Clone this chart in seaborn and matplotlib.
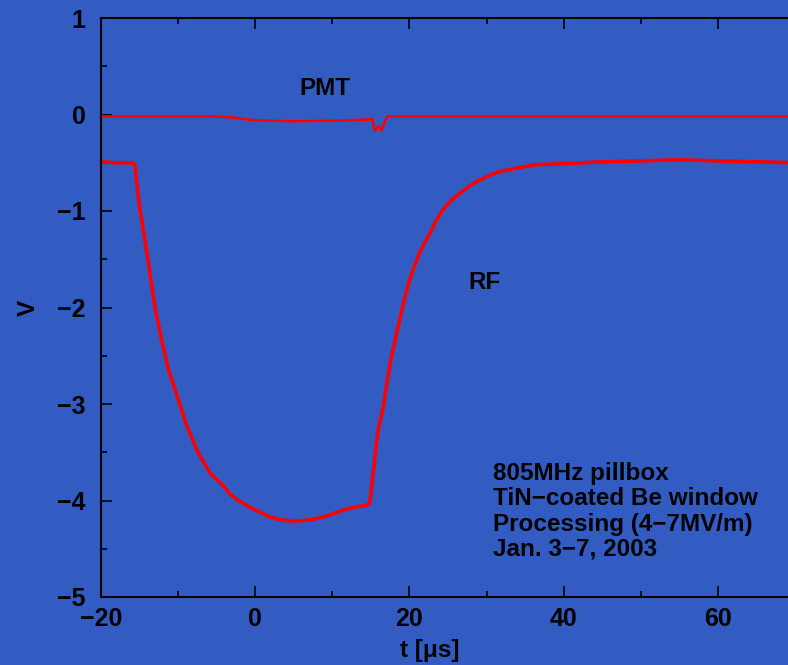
import matplotlib
matplotlib.use("Agg")
import matplotlib.pyplot as plt
from matplotlib.ticker import MultipleLocator
import seaborn as sns
import pandas as pd

# RF signal (time in microseconds, voltage in V)
rf_t = [-20.0, -18.0, -16.5, -15.8, -15.6, -15.3, -14.95, -14.3, -13.65, -13.0, -12.1,
        -11.3, -10.2, -8.9, -7.6, -6.7, -5.9, -5.0, -4.2, -3.3, -2.4, -1.5, -0.7,
        0.6, 1.9, 3.2, 4.5, 5.8, 7.1, 8.4, 9.7, 11.0, 12.3, 13.5, 14.4, 14.85,
        15.1, 15.5, 15.9, 16.6, 17.1, 17.65, 18.2, 18.7, 19.3, 20.0, 20.6, 21.3,
        21.9, 22.6, 23.4, 24.3, 25.3, 26.5, 27.8, 29.1, 30.4, 31.7, 33.0, 34.3,
        36.4, 40.0, 45.0, 50.0, 55.0, 60.0, 65.0, 70.0, 80.0]
rf_v = [-0.49, -0.50, -0.50, -0.50, -0.53, -0.75, -0.99, -1.30, -1.65, -2.00, -2.35,
        -2.63, -2.90, -3.22, -3.47, -3.60, -3.71, -3.78, -3.84, -3.93, -3.99, -4.03,
        -4.07, -4.12, -4.17, -4.20, -4.21, -4.21, -4.20, -4.18, -4.15, -4.11, -4.08,
        -4.06, -4.05, -4.03, -3.85, -3.57, -3.29, -3.04, -2.77, -2.52, -2.32, -2.14,
        -1.93, -1.72, -1.58, -1.44, -1.34, -1.24, -1.11, -0.99, -0.90, -0.82, -0.74,
        -0.68, -0.63, -0.59, -0.57, -0.55, -0.52, -0.51, -0.49, -0.48, -0.47, -0.48,
        -0.49, -0.50, -0.50]

# PMT signal
pmt_t = [-20.0, -5.0, -3.0, -1.0, 0.0, 5.0, 10.0, 14.0, 15.2, 15.5, 16.0, 16.4,
         16.8, 17.2, 20.0, 40.0, 60.0, 80.0]
pmt_v = [-0.02, -0.02, -0.03, -0.05, -0.06, -0.07, -0.065, -0.055, -0.05, -0.17,
         -0.12, -0.17, -0.07, -0.02, -0.02, -0.02, -0.02, -0.02]

x_ticks = [-20, 0, 20, 40, 60]
y_ticks = [1, 0, -1, -2, -3, -4, -5]

notes = ["805MHz pillbox", "TiN\u2212coated Be window",
         "Processing (4\u22127MV/m)", "Jan. 3\u22127, 2003"]

bg = "#335cc3"
sns.set_theme(style="ticks", rc={"axes.facecolor": bg, "figure.facecolor": bg})
plt.rcParams["font.family"] = ["Liberation Sans", "DejaVu Sans"]
plt.rcParams["font.weight"] = "bold"

fig = plt.figure(figsize=(7.88, 6.65), dpi=100)
ax = fig.add_axes([101 / 788, 68 / 665, 771 / 788, 579 / 665])
ax.set_facecolor(bg)

rf_df = pd.DataFrame({"t": rf_t, "V": rf_v})
pmt_df = pd.DataFrame({"t": pmt_t, "V": pmt_v})
sns.lineplot(data=rf_df, x="t", y="V", ax=ax, color="#ff0000", lw=2.6,
             estimator=None, sort=False)
sns.lineplot(data=pmt_df, x="t", y="V", ax=ax, color="#ff0000", lw=1.8,
             estimator=None, sort=False)
ax.set_xlabel("")
ax.set_ylabel("")

ax.set_xlim(-20, 80)
ax.set_ylim(-5, 1)
ax.set_xticks(x_ticks)
ax.set_yticks(y_ticks)
ax.xaxis.set_minor_locator(MultipleLocator(10))
ax.yaxis.set_minor_locator(MultipleLocator(0.5))
ax.tick_params(which="both", direction="in", top=True, right=True,
               color="black", width=1.2)
ax.tick_params(which="major", length=8, labelsize=18)
ax.tick_params(which="minor", length=4.5)
ax.tick_params(axis="x", which="major", pad=7)
ax.tick_params(axis="y", which="major", pad=11)
for lab in ax.get_xticklabels() + ax.get_yticklabels():
    lab.set_fontweight("bold")
    lab.set_color("black")
for s in ax.spines.values():
    s.set_color("black")
    s.set_linewidth(1.5)

fs = 17.5
fig.text(430 / 788, 1 - 651 / 665, "t [\u03bcs]", ha="center", va="center",
         fontsize=fs, fontweight="bold", color="black")
fig.text(28 / 788, 1 - 308 / 665, "V", ha="center", va="center", rotation=90,
         fontsize=fs, fontweight="bold", color="black")

ax.text(9.0, 0.27, "PMT", ha="center", va="center", fontsize=fs,
        fontweight="bold", color="black")
ax.text(29.8, -1.74, "RF", ha="center", va="center", fontsize=fs,
        fontweight="bold", color="black")
ax.text(30.8, -3.60, "\n".join(notes), ha="left", va="top", fontsize=fs,
        fontweight="bold", color="black", linespacing=1.13)

fig.savefig("out.png", dpi=100, facecolor=bg)
